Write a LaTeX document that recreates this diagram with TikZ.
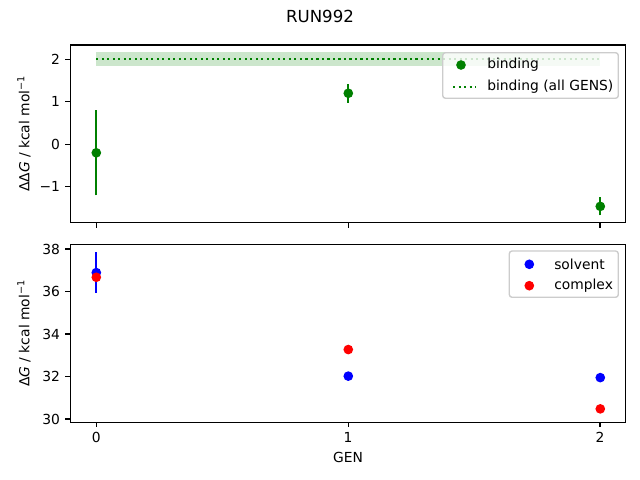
\documentclass[tikz,border=0pt]{standalone}
\usepackage{fontspec}
\setmainfont{DejaVu Sans}
\definecolor{mplgreen}{HTML}{008000}
\definecolor{mplblue}{HTML}{0000FF}
\definecolor{mplred}{HTML}{FF0000}
\begin{document}
\begin{tikzpicture}[x=0.01in,y=-0.01in,%
                mypoint/.style={shape=circle,inner sep=0pt,minimum size=7pt},
                errbar/.style={line width=1.5pt,line cap=butt},
                axesframe/.style={line width=0.8pt},
                tickmark/.style={line width=0.8pt},
                legendbox/.style={draw=black!20,fill=white,fill opacity=0.8,
                        rounded corners=2pt,line width=1pt},
                allgens/.style={mplgreen,line width=1.5pt,
                        dash pattern=on 1.5pt off 2.475pt}
        ]
            \useasboundingbox (0,0) rectangle (640,480);
            \node at (320,16) {\fontsize{12}{14}\selectfont RUN992};
            % top axes: binding free energy
            \begin{scope}[shift={(96.3,144.3)},x=2.5185in,y=0.425in]
                \fill [mplgreen, opacity=0.2] (0,1.84) rectangle (2,2.16);
                \draw [allgens] (0,2) -- (2,2);
                \draw [errbar,mplgreen] (0,-1.2) -- (0,0.8)
                        (1,0.98) -- (1,1.42) (2,-1.67) -- (2,-1.25);
                \foreach \g/\v in {0/-0.2,1/1.2,2/-1.46}
                    \node [mypoint,fill=mplgreen] at (\g,\v) {};
            \end{scope}
            \draw [axesframe] (70.3,45) rectangle (625.7,222.7);
            \foreach \v/\t in {2/2,1/1,0/0,-1/−1}
                \draw [tickmark] (70.3,144.3-42.5*\v) -- ++(-4.86,0)
                        node [anchor=east,inner sep=0pt,xshift=-3.5pt] {\t};
            \foreach \g in {0,1,2}
                \draw [tickmark] (96.3+251.85*\g,222.7) -- ++(0,4.86);
            \node [rotate=90] at (24,133.8) {ΔΔ\textit{G} / kcal mol\textsuperscript{−1}};
            % legend of top axes
            \draw [legendbox] (442.7,52.7) rectangle (618.3,98.3);
            \node [mypoint,fill=mplgreen] at (461,65) {};
            \node [anchor=west,inner sep=0pt] at (487,65) {binding};
            \draw [allgens] (453,86.7) -- (476,86.7);
            \node [anchor=west,inner sep=0pt] at (487,86.7) {binding (all GENS)};
            % bottom axes: solvent and complex
            \begin{scope}[shift={(96.3,1056.5)},x=2.5185in,y=0.2125in]
                \draw [errbar,mplblue] (0,35.93) -- (0,37.85);
                \foreach \g/\v in {0/36.87,1/32.0,2/31.93}
                    \node [mypoint,fill=mplblue] at (\g,\v) {};
                \foreach \g/\v in {0/36.65,1/33.25,2/30.46}
                    \node [mypoint,fill=mplred] at (\g,\v) {};
            \end{scope}
            \draw [axesframe] (70.3,244.3) rectangle (625.7,422.3);
            \foreach \v in {30,32,...,38}
                \draw [tickmark] (70.3,419-21.25*\v+637.5) -- ++(-4.86,0)
                        node [anchor=east,inner sep=0pt,xshift=-3.5pt] {\v};
            \foreach \g in {0,1,2}
                \draw [tickmark] (96.3+251.85*\g,422.3) -- ++(0,4.86)
                        node [anchor=north,inner sep=0pt,yshift=-3.5pt] {\g};
            \node at (348,457) {GEN};
            \node [rotate=90] at (24,333.3) {Δ\textit{G} / kcal mol\textsuperscript{−1}};
            % legend of bottom axes
            \draw [legendbox] (509.3,251) rectangle (618.3,297.3);
            \node [mypoint,fill=mplblue] at (529.3,264.3) {};
            \node [anchor=west,inner sep=0pt] at (554,264.3) {solvent};
            \node [mypoint,fill=mplred] at (529.3,285.7) {};
            \node [anchor=west,inner sep=0pt] at (554,285.7) {complex};
        \end{tikzpicture}
\end{document}
